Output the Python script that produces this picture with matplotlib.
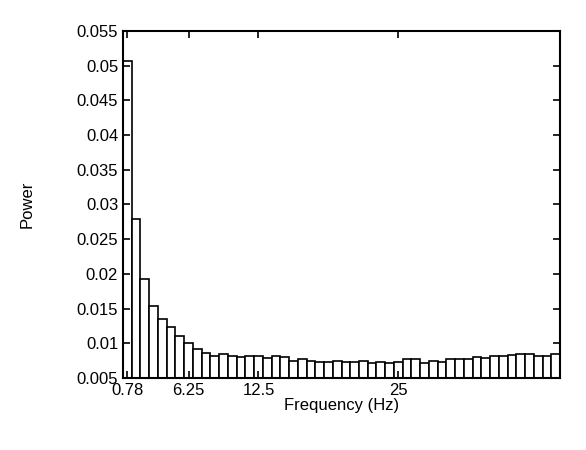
import numpy as np
import matplotlib.pyplot as plt

plt.rcParams['font.family'] = ['Liberation Sans', 'DejaVu Sans']

bin_width = 0.78125
power = [0.0507, 0.0279, 0.0192, 0.0154, 0.0135, 0.0124, 0.0110, 0.0100, 0.0092, 0.0086,
         0.0082, 0.0084, 0.0082, 0.0080, 0.0082, 0.0081, 0.0079, 0.0081, 0.0080, 0.0075,
         0.0077, 0.0074, 0.0073, 0.0073, 0.0074, 0.0073, 0.0073, 0.0074, 0.0072, 0.0073,
         0.0071, 0.0073, 0.0078, 0.0077, 0.0072, 0.0074, 0.0073, 0.0077, 0.0078, 0.0078,
         0.0080, 0.0079, 0.0081, 0.0081, 0.0083, 0.0084, 0.0085, 0.0082, 0.0082, 0.0084]
freqs = bin_width * np.arange(1, len(power) + 1)
xtick_vals = [0.78, 6.25, 12.5, 25]
xtick_labels = ['0.78', '6.25', '12.5', '25']

fig = plt.figure(figsize=(5.86, 4.5), dpi=100)
ax = fig.add_axes([123/586, 1 - 378/450, (560-123)/586, (378-31)/450])
ax.bar(freqs, np.array(power) - 0.005, bottom=0.005, width=bin_width,
       facecolor='white', edgecolor='black', linewidth=1.2)
ax.set_xlim(bin_width / 2, freqs[-1] + bin_width / 2)
ax.set_ylim(0.005, 0.055)
ax.set_yticks(np.arange(0.005, 0.0551, 0.005))
ax.set_yticklabels(['0.005', '0.01', '0.015', '0.02', '0.025', '0.03', '0.035',
                    '0.04', '0.045', '0.05', '0.055'])
ax.set_xticks(xtick_vals)
ax.set_xticklabels(xtick_labels)
ax.tick_params(direction='in', top=True, right=True, labelsize=12, length=5, width=1.2)
for s in ax.spines.values():
    s.set_linewidth(1.5)
ax.set_xlabel('Frequency (Hz)', fontsize=12, labelpad=0)
ax.set_ylabel('Power', fontsize=12, labelpad=30)
fig.savefig('out.png')
